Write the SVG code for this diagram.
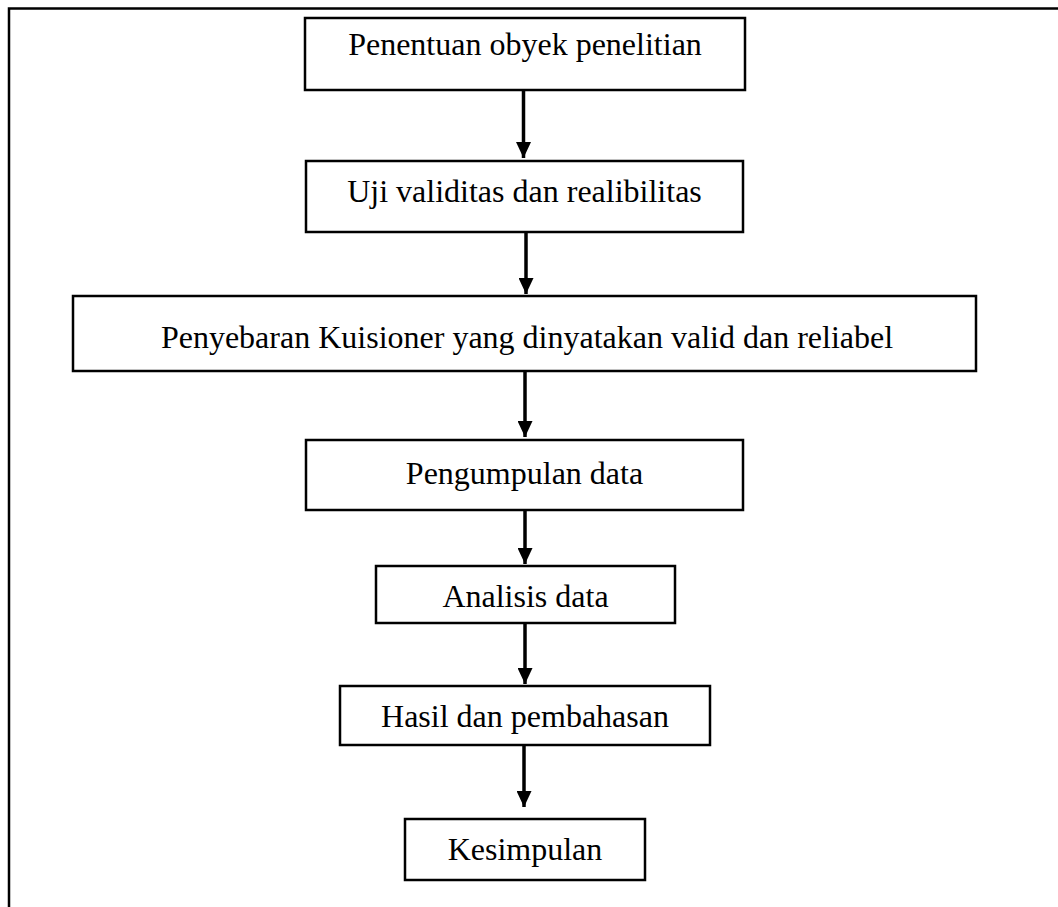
<svg xmlns="http://www.w3.org/2000/svg" width="1058" height="907" viewBox="0 0 1058 907">
<style>
.box{fill:#fff;stroke:#000;stroke-width:2.5}
.lbl{font-family:"Liberation Serif","Times New Roman",serif;font-size:32px;fill:#000;text-anchor:middle}
.frame{stroke:#000;stroke-width:2.5;fill:none}
.conn{stroke:#000;stroke-width:3.5;fill:none}
</style>
<defs>
<marker id="ah" markerWidth="16" markerHeight="15" refX="16" refY="7.5" orient="auto" markerUnits="userSpaceOnUse">
<path d="M0,0 L16,7.5 L0,15 Z" fill="#000"/>
</marker>
</defs>
<rect width="1058" height="907" fill="#fff"/>
<path class="frame" d="M9,907 L9,8.5 L1058,8.5"/>
<g id="n1"><rect class="box" x="305" y="18" width="440" height="72"/><text class="lbl" x="525" y="55">Penentuan obyek penelitian</text></g>
<g id="n2"><rect class="box" x="306" y="161" width="437" height="71"/><text class="lbl" x="524.5" y="202">Uji validitas dan realibilitas</text></g>
<g id="n3"><rect class="box" x="73" y="296" width="903" height="75"/><text class="lbl" x="527" y="348">Penyebaran Kuisioner yang dinyatakan valid dan reliabel</text></g>
<g id="n4"><rect class="box" x="306" y="440" width="437" height="70"/><text class="lbl" x="524.5" y="484">Pengumpulan data</text></g>
<g id="n5"><rect class="box" x="376" y="566" width="299" height="57"/><text class="lbl" x="525.5" y="607">Analisis data</text></g>
<g id="n6"><rect class="box" x="340" y="686" width="370" height="59"/><text class="lbl" x="525" y="727">Hasil dan pembahasan</text></g>
<g id="n7"><rect class="box" x="405" y="819" width="240" height="61"/><text class="lbl" x="525" y="860">Kesimpulan</text></g>
<g id="connectors">
<line class="conn" x1="523.5" y1="90" x2="523.5" y2="158" marker-end="url(#ah)"/>
<line class="conn" x1="526" y1="232" x2="526" y2="294" marker-end="url(#ah)"/>
<line class="conn" x1="525" y1="371" x2="525" y2="437" marker-end="url(#ah)"/>
<line class="conn" x1="525" y1="510" x2="525" y2="564" marker-end="url(#ah)"/>
<line class="conn" x1="525" y1="623" x2="525" y2="684" marker-end="url(#ah)"/>
<line class="conn" x1="524" y1="745" x2="524" y2="807" marker-end="url(#ah)"/>
</g>
</svg>
